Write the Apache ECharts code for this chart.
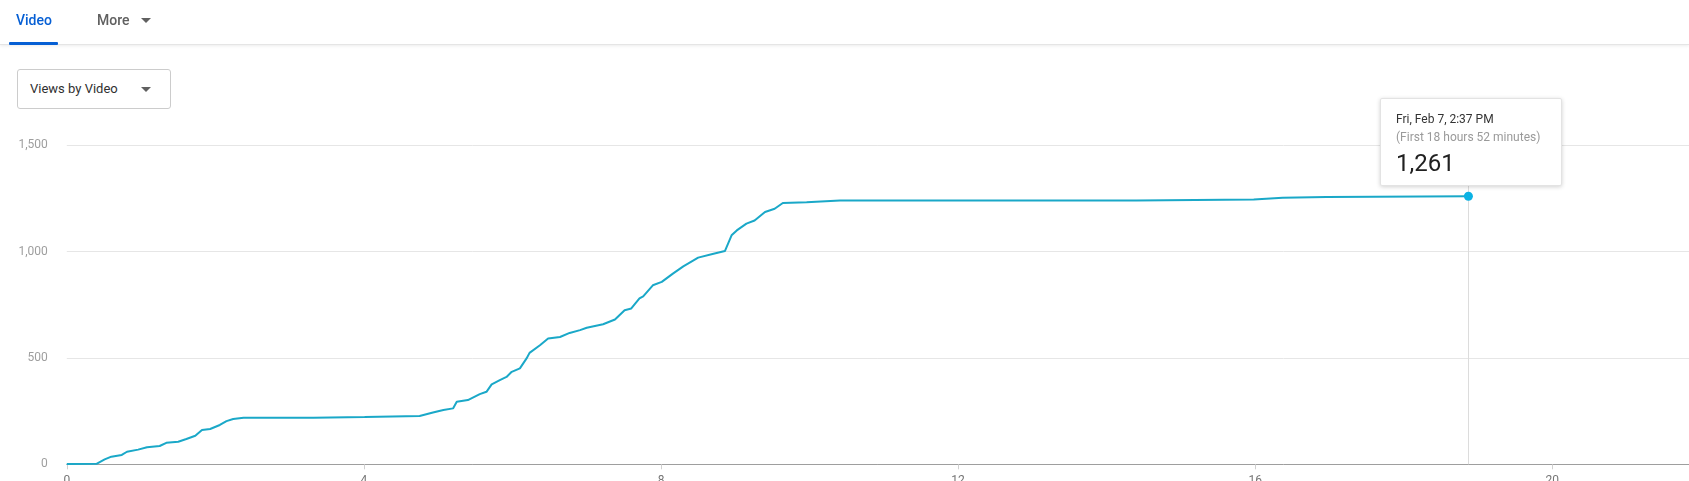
<!DOCTYPE html>
<html>
<head>
<meta charset="utf-8">
<script src="https://cdn.jsdelivr.net/npm/echarts@6/dist/echarts.min.js"></script>
<style>
    html, body { margin: 0; padding: 0; background: #fff; font-family: Roboto, "Noto Sans", sans-serif; }
    #page { position: relative; width: 1689px; height: 481px; overflow: hidden; }
    #chart { position: absolute; left: 0; top: 0; width: 1689px; height: 481px; }
    .tabs { position: absolute; left: 0; top: 0; width: 1689px; height: 44px; border-bottom: 1px solid #e5e5e5; box-shadow: 0 1px 3px rgba(0,0,0,0.08); z-index: 2; background: #fff; }
    .tab { position: absolute; top: 11px; font-size: 14px; line-height: 18px; }
    .tab.active { left: 16px; color: #065fd4; font-weight: 500; }
    .tab.active:after { content: ""; position: absolute; left: -7px; right: -6px; top: 31px; height: 3px; background: #065fd4; border-radius: 1px; }
    .tab.more { left: 97px; color: #606060; font-weight: 500; }
    .caret { display: inline-block; width: 0; height: 0; border-left: 5px solid transparent; border-right: 5px solid transparent; border-top: 5px solid #606060; vertical-align: middle; }
    .tab.more .caret { margin-left: 11px; margin-top: -2px; }
    .select { position: absolute; left: 17px; top: 69px; width: 152px; height: 38px; border: 1px solid #cccccc; border-radius: 3px; z-index: 2; background: #fff; }
    .select span { position: absolute; left: 12px; top: 11px; font-size: 13px; line-height: 16px; color: #303030; }
    .select .caret { position: absolute; left: 123px; top: 17px; border-top-color: #606060; }
</style>
</head>
<body>
<div id="page">
    <div class="tabs">
        <div class="tab active">Video</div>
        <div class="tab more">More<span class="caret"></span></div>
    </div>
    <div class="select"><span>Views by Video</span><i class="caret"></i></div>
    <div id="chart"></div>
</div>
<script>
    // hours since publish
    var hours = [0, 0.40, 0.51, 0.60, 0.74, 0.81, 0.96, 1.08, 1.25, 1.34,
        1.50, 1.61, 1.73, 1.82, 1.93, 2.06, 2.15, 2.24, 2.38, 3.32,
        3.33, 4.01, 4.02, 4.75, 4.93, 5.07, 5.20, 5.25, 5.40, 5.56,
        5.65, 5.72, 5.83, 5.92, 5.99, 6.10, 6.19, 6.23, 6.37, 6.48,
        6.64, 6.77, 6.91, 7.00, 7.22, 7.38, 7.51, 7.60, 7.71, 7.76,
        7.89, 8.01, 8.16, 8.30, 8.50, 8.68, 8.86, 8.95, 9.02, 9.15,
        9.26, 9.40, 9.53, 9.64, 9.96, 10.41, 14.40, 14.41, 15.98, 15.99,
        16.37, 16.38, 16.96, 16.97, 18.87];
    // cumulative views
    var views = [1, 2, 23, 36, 44, 59, 69, 80, 86, 101,
        106, 119, 134, 161, 166, 185, 203, 213, 219, 219,
        222, 222, 227, 227, 244, 255, 263, 294, 302, 330,
        341, 376, 396, 411, 435, 451, 498, 524, 560, 592,
        599, 618, 631, 642, 659, 681, 725, 733, 780, 790,
        842, 858, 897, 931, 972, 988, 1003, 1077, 1100, 1132,
        1147, 1187, 1202, 1229, 1233, 1241, 1241, 1246, 1246, 1254,
        1254, 1257, 1257, 1261, 1261];
    var xTicks = [0, 4, 8, 12, 16, 20];
    var yTicks = [0, 500, 1000, 1500];
    var tipDate = 'Fri, Feb 7, 2:37 PM';
    var tipSpan = '(First 18 hours 52 minutes)';

    var lineColor = '#1899b6';
    var last = hours.length - 1;
    var seriesData = hours.map(function (h, i) {
        if (i === last) {
            return { value: [h, views[i]], symbol: 'circle', symbolSize: 9 };
        }
        return [h, views[i]];
    });

    var myChart = echarts.init(document.getElementById('chart'));
    var option = {
        animation: false,
        // v6 keeps labels inside the box by default; the original lets them run off the bottom
        grid: { left: 66.8, right: 0, top: 145.4, height: 318.9, containLabel: false, outerBoundsMode: 'none' },
        tooltip: {
            trigger: 'axis',
            triggerOn: 'none',
            alwaysShowContent: true,
            backgroundColor: '#fff',
            borderColor: '#e3e3e3',
            borderWidth: 1,
            padding: [11, 15, 6, 15],
            extraCssText: 'box-shadow: 0 1px 4px rgba(0,0,0,0.18); border-radius: 2px; width: 150px;',
            position: function () { return [1380, 98]; },
            axisPointer: {
                type: 'line',
                z: 1,
                lineStyle: { color: '#dcdcdc', width: 1, type: 'solid' }
            },
            formatter: function (params) {
                var v = params[0].value[1];
                return '<div style="font-family:Roboto;font-size:12px;line-height:18px;color:#333">' + tipDate + '</div>' +
                    '<div style="font-family:Roboto;font-size:12px;line-height:19px;color:#9a9a9a">' + tipSpan + '</div>' +
                    '<div style="font-family:Roboto;font-size:24px;line-height:32px;color:#212121">' + v.toLocaleString('en-US') + '</div>';
            }
        },
        xAxis: {
            type: 'value',
            min: 0,
            max: 21.84,
            interval: 4,
            axisLine: { show: true, lineStyle: { color: '#9e9e9e', width: 1 } },
            axisTick: { show: true, length: 5, lineStyle: { color: '#d0d0d0' } },
            axisLabel: {
                margin: 11,
                color: '#757575',
                fontFamily: 'Roboto',
                fontSize: 12,
                showMaxLabel: false,
                formatter: function (val) {
                    return xTicks.indexOf(val) >= 0 ? String(val) : '';
                }
            },
            splitLine: { show: false }
        },
        yAxis: {
            type: 'value',
            min: 0,
            max: 1500,
            interval: 500,
            axisLine: { show: false },
            axisTick: { show: false },
            axisLabel: {
                margin: 19,
                color: '#9e9e9e',
                fontFamily: 'Roboto',
                fontSize: 12,
                formatter: function (val) {
                    return yTicks.indexOf(val) >= 0 ? val.toLocaleString('en-US') : '';
                }
            },
            splitLine: { show: true, lineStyle: { color: '#e6e6e6', width: 1 } }
        },
        series: [{
            type: 'line',
            data: seriesData,
            symbol: 'none',
            showSymbol: true,
            smooth: false,
            z: 3,
            lineStyle: { color: lineColor, width: 2 },
            itemStyle: { color: '#0aa2d0' },
            emphasis: { scale: false, lineStyle: { width: 2 } }
        }]
    };
    myChart.setOption(option);
    myChart.dispatchAction({ type: 'showTip', seriesIndex: 0, dataIndex: last });
</script>
</body>
</html>
